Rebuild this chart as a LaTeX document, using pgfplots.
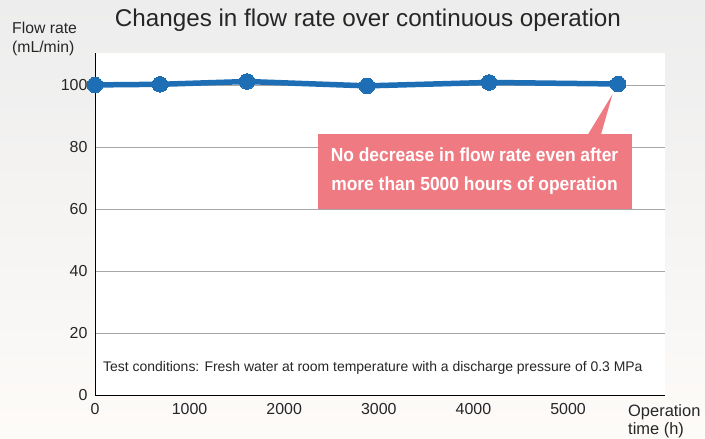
\documentclass[border=0pt]{standalone}
\usepackage{pgfplots}
\pgfplotsset{compat=1.18}
\usepackage{fontspec}
\setmainfont{Liberation Sans}
\newfontfamily\condbold[FakeStretch=0.92]{Liberation Sans Bold}
\definecolor{linecol}{HTML}{1E6EB5}
\definecolor{callout}{HTML}{F07A82}
\definecolor{bg}{HTML}{EDEDED}
\begin{document}
\begin{tikzpicture}[x=1bp,y=1bp]
\shade[top color=bg, bottom color=bg!80!orange!10!white] (-95,-44) rectangle (610,395);
\useasboundingbox (-95,-44) rectangle (610,395);
\begin{axis}[
  at={(0,0)}, anchor=south west,
  scale only axis, width=570bp, height=342bp,
  xmin=0, xmax=6025, ymin=0, ymax=110.3,
  axis background/.style={fill=white},
  axis x line*=bottom, axis y line*=left,
  axis line style={black, line width=0.8pt},
  xtick={0,1000,2000,3000,4000,5000},
  ytick={0,20,40,60,80,100},
  ymajorgrids, grid style={gray!70, line width=0.6pt},
  major tick length=0pt,
  tick label style={font=\fontsize{16}{18}\selectfont, text=black!85},
  xticklabel style={yshift=-5bp},
  yticklabel style={xshift=-4bp},
  /pgf/number format/assume math mode=true,
  scaled x ticks=false,
  xticklabel={\pgfmathprintnumber[1000 sep={}]{\tick}},
  clip=false,
]
\addplot[linecol, line width=5.5bp, mark=*, mark size=7.8bp, mark options={fill=linecol, draw=linecol, line width=0pt}]
coordinates {(0,100) (687,100.2) (1607,101.1) (2875,99.7) (4165,100.8) (5529,100.3)};
\fill[callout] (axis cs:5330,82) -- (axis cs:5470,97) -- (axis cs:5170,82) -- cycle;
\node[fill=callout, text=white, anchor=north west, minimum width=314bp, minimum height=75bp, align=center, inner sep=0pt,
  font=\condbold\fontsize{19}{29}\selectfont] at (axis cs:2350,84.3)
  {No decrease in flow rate even after\\more than 5000 hours of operation};
\node[anchor=west, font=\fontsize{14}{16}\selectfont, text=black!85, inner sep=0pt] at (axis cs:85,8.8)
  {Test conditions: Fresh water at room temperature with a discharge pressure of 0.3 MPa};
\end{axis}
\node[font=\fontsize{24.3}{28}\selectfont, text=black!85] at (273,375) {Changes in flow rate over continuous operation};
\node[font=\fontsize{15.8}{19}\selectfont, align=left, anchor=north west, inner sep=0pt, text=black!85] at (-83,373) {Flow rate\\(mL/min)};
\node[font=\fontsize{16.5}{18.5}\selectfont, align=left, anchor=north west, inner sep=0pt, text=black!85] at (533,-9) {Operation\\time (h)};
\end{tikzpicture}
\end{document}
